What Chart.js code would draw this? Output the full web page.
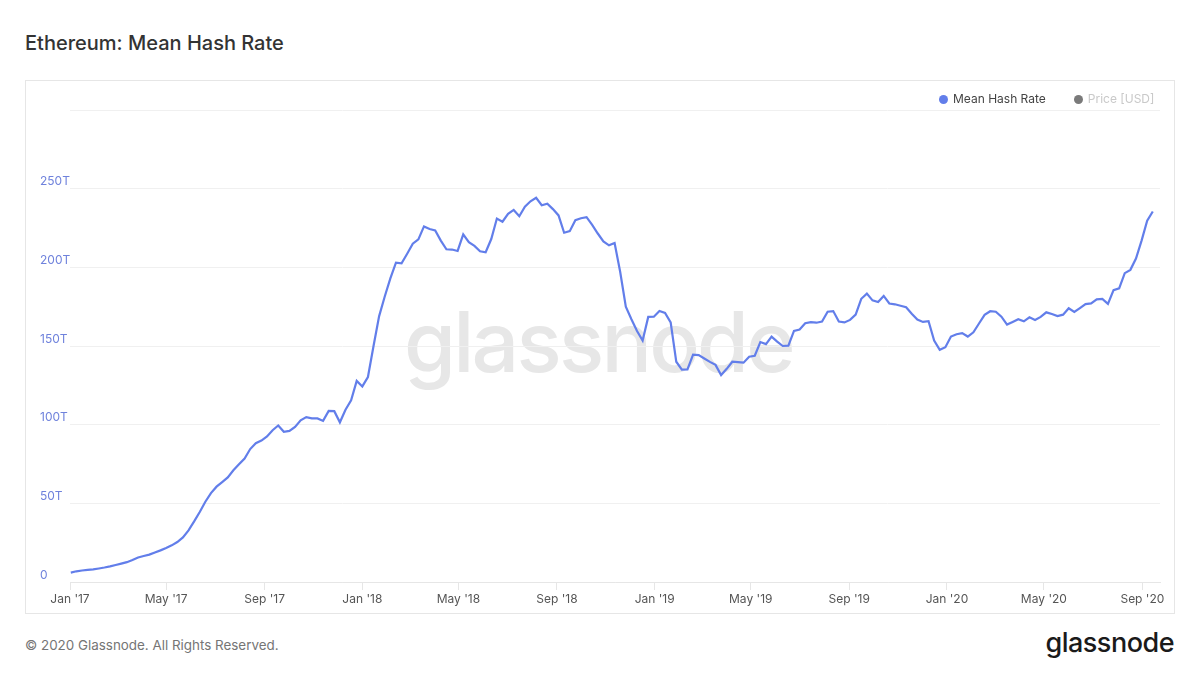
<!DOCTYPE html>
<html>
<head>
<meta charset="utf-8">
<script src="https://cdn.jsdelivr.net/npm/chart.js@4.4.1/dist/chart.umd.min.js"></script>
<style>
  body { margin:0; width:1200px; height:675px; background:#fff; font-family: Inter, "Noto Sans", sans-serif; position:relative; overflow:hidden; }
  #title { position:absolute; left:25px; top:31px; font-size:20px; line-height:24px; color:#333; font-weight:500; }
  #box { position:absolute; left:25px; top:80px; width:1148px; height:532px; border:1px solid #e6e6e6; background:#fff; }
  #wm { position:absolute; left:378px; top:218px; font-size:84px; line-height:85px; font-weight:500; color:#e7e7e7; letter-spacing:-2.8px; white-space:nowrap; }
  #wrap { position:absolute; left:0; top:0; width:1148px; height:532px; }
  #legend { position:absolute; left:939px; top:91px; display:flex; align-items:center; font-size:12px; line-height:16px; }
  .dot { width:9px; height:9px; border-radius:50%; margin-right:5px; }
  #footer { position:absolute; left:25px; top:637px; font-size:13.4px; line-height:16px; color:#757575; }
  #logo { position:absolute; right:26px; top:626px; font-size:27px; line-height:33px; font-weight:500; color:#1a1a1a; letter-spacing:-0.5px; }
</style>
</head>
<body>
<div id="title">Ethereum: Mean Hash Rate</div>
<div id="box">
  <div id="wm">glassnode</div>
  <div id="wrap"><canvas id="hashChart"></canvas></div>
</div>
<div id="legend">
  <span class="dot" style="background:#627eea"></span><span style="color:#444">Mean Hash Rate</span>
  <span class="dot" style="background:#7a7a7a;margin-left:28px"></span><span style="color:#c9c9c9">Price [USD]</span>
</div>
<div id="footer">© 2020 Glassnode. All Rights Reserved.</div>
<div id="logo">glassnode</div>

<script>
// weekly samples, first one on Mon 2 Jan 2017
const firstWeek = Date.UTC(2017, 0, 2);
const WEEK = 7 * 24 * 3600 * 1000;

// mean hash rate in TH/s (T)
const hashRate = [
  6.0, 6.8, 7.3, 7.7, 8.0, 8.6, 9.2, 9.9, 10.8, 11.7,
  12.6, 14.0, 15.6, 16.5, 17.4, 18.8, 20.1, 21.6, 23.3, 25.4,
  28.3, 32.8, 38.5, 44.5, 51.0, 56.5, 60.6, 63.5, 66.5, 71.0,
  74.8, 78.5, 84.5, 88.2, 89.9, 92.5, 96.5, 99.5, 95.5, 96.0,
  98.6, 102.8, 104.8, 104.0, 104.0, 102.4, 108.7, 108.6, 101.5, 109.5,
  115.5, 127.8, 124.3, 130.3, 150.0, 169.0, 181.5, 193.0, 203.0, 202.5,
  208.6, 215.0, 217.8, 226.0, 224.4, 223.5, 217.0, 211.5, 211.3, 210.4,
  221.0, 216.0, 213.6, 210.2, 209.6, 218.0, 231.0, 229.0, 234.0, 236.5,
  232.5, 238.5, 242.0, 244.2, 239.5, 240.5, 237.0, 233.0, 222.0, 223.0,
  230.0, 231.2, 231.9, 227.0, 221.5, 216.5, 214.0, 215.5, 197.0, 175.0,
  167.0, 159.5, 153.5, 168.5, 168.6, 172.2, 171.0, 165.0, 140.0, 135.0,
  135.1, 144.5, 144.2, 142.1, 139.9, 138.0, 131.5, 135.5, 140.0, 139.8,
  139.4, 143.2, 143.8, 152.5, 151.2, 156.0, 152.8, 150.0, 150.2, 159.6,
  160.5, 164.5, 165.2, 164.8, 165.6, 171.8, 172.2, 165.5, 165.0, 166.6,
  170.0, 180.0, 183.3, 179.0, 178.0, 181.8, 177.0, 176.5, 175.6, 174.6,
  170.5, 166.8, 165.3, 165.8, 153.5, 147.6, 149.2, 156.0, 157.5, 158.2,
  156.0, 158.7, 164.3, 169.8, 172.1, 171.8, 168.6, 163.6, 165.3, 167.0,
  165.7, 168.2, 166.5, 168.5, 171.4, 170.3, 169.0, 169.9, 174.0, 171.6,
  174.1, 176.6, 177.1, 179.6, 179.9, 176.8, 185.5, 186.7, 196.3, 198.4,
  205.6, 217.0, 229.6, 235.5
];

const weeks = hashRate.map((_, i) => firstWeek + i * WEEK);

// x tick dates and y tick values
const xTickDates = [
  Date.UTC(2017, 0, 1), Date.UTC(2017, 4, 1), Date.UTC(2017, 8, 1),
  Date.UTC(2018, 0, 1), Date.UTC(2018, 4, 1), Date.UTC(2018, 8, 1),
  Date.UTC(2019, 0, 1), Date.UTC(2019, 4, 1), Date.UTC(2019, 8, 1),
  Date.UTC(2020, 0, 1), Date.UTC(2020, 4, 1), Date.UTC(2020, 8, 1)
];
const yTicks = [0, 50, 100, 150, 200, 250, 300];
const monthNames = ['Jan','Feb','Mar','Apr','May','Jun','Jul','Aug','Sep','Oct','Nov','Dec'];

const ctx = document.getElementById('hashChart');

new Chart(ctx, {
  type: 'line',
  data: {
    datasets: [{
      label: 'Mean Hash Rate',
      data: weeks.map((w, i) => ({ x: w, y: hashRate[i] })),
      borderColor: '#627eea',
      borderWidth: 2.2,
      pointRadius: 0,
      tension: 0,
      fill: false
    }]
  },
  options: {
    responsive: true,
    maintainAspectRatio: false,
    animation: false,
    layout: { padding: { left: 14, right: 14, top: 29, bottom: 0 } },
    plugins: {
      legend: { display: false },
      tooltip: { enabled: false }
    },
    scales: {
      x: {
        type: 'linear',
        min: Date.UTC(2017, 0, 1),
        max: Date.UTC(2020, 8, 23),
        afterBuildTicks: (scale) => { scale.ticks = xTickDates.map(v => ({ value: v })); },
        afterFit: (scale) => { scale.height = 31; },
        grid: { drawOnChartArea: false, drawTicks: true, tickLength: 8, color: '#e6e6e6' },
        border: { display: true, color: '#e6e6e6' },
        ticks: {
          autoSkip: false,
          maxRotation: 0,
          padding: 2,
          color: '#555',
          font: { family: 'Inter', size: 12 },
          callback: (v) => {
            const d = new Date(v);
            return monthNames[d.getUTCMonth()] + " '" + String(d.getUTCFullYear()).slice(2);
          }
        }
      },
      y: {
        min: 0,
        max: 300,
        afterBuildTicks: (scale) => { scale.ticks = yTicks.map(v => ({ value: v })); },
        afterFit: (scale) => { scale.width = 30; },
        grid: { drawTicks: false, color: '#f0f0f0' },
        border: { display: false },
        ticks: {
          crossAlign: 'far',
          labelOffset: -7,
          padding: 0,
          color: '#6f82dc',
          font: { family: 'Inter', size: 12 },
          callback: (v) => v === 0 ? '0' : (v === 300 ? '' : v + 'T')
        }
      }
    }
  }
});
</script>
</body>
</html>
